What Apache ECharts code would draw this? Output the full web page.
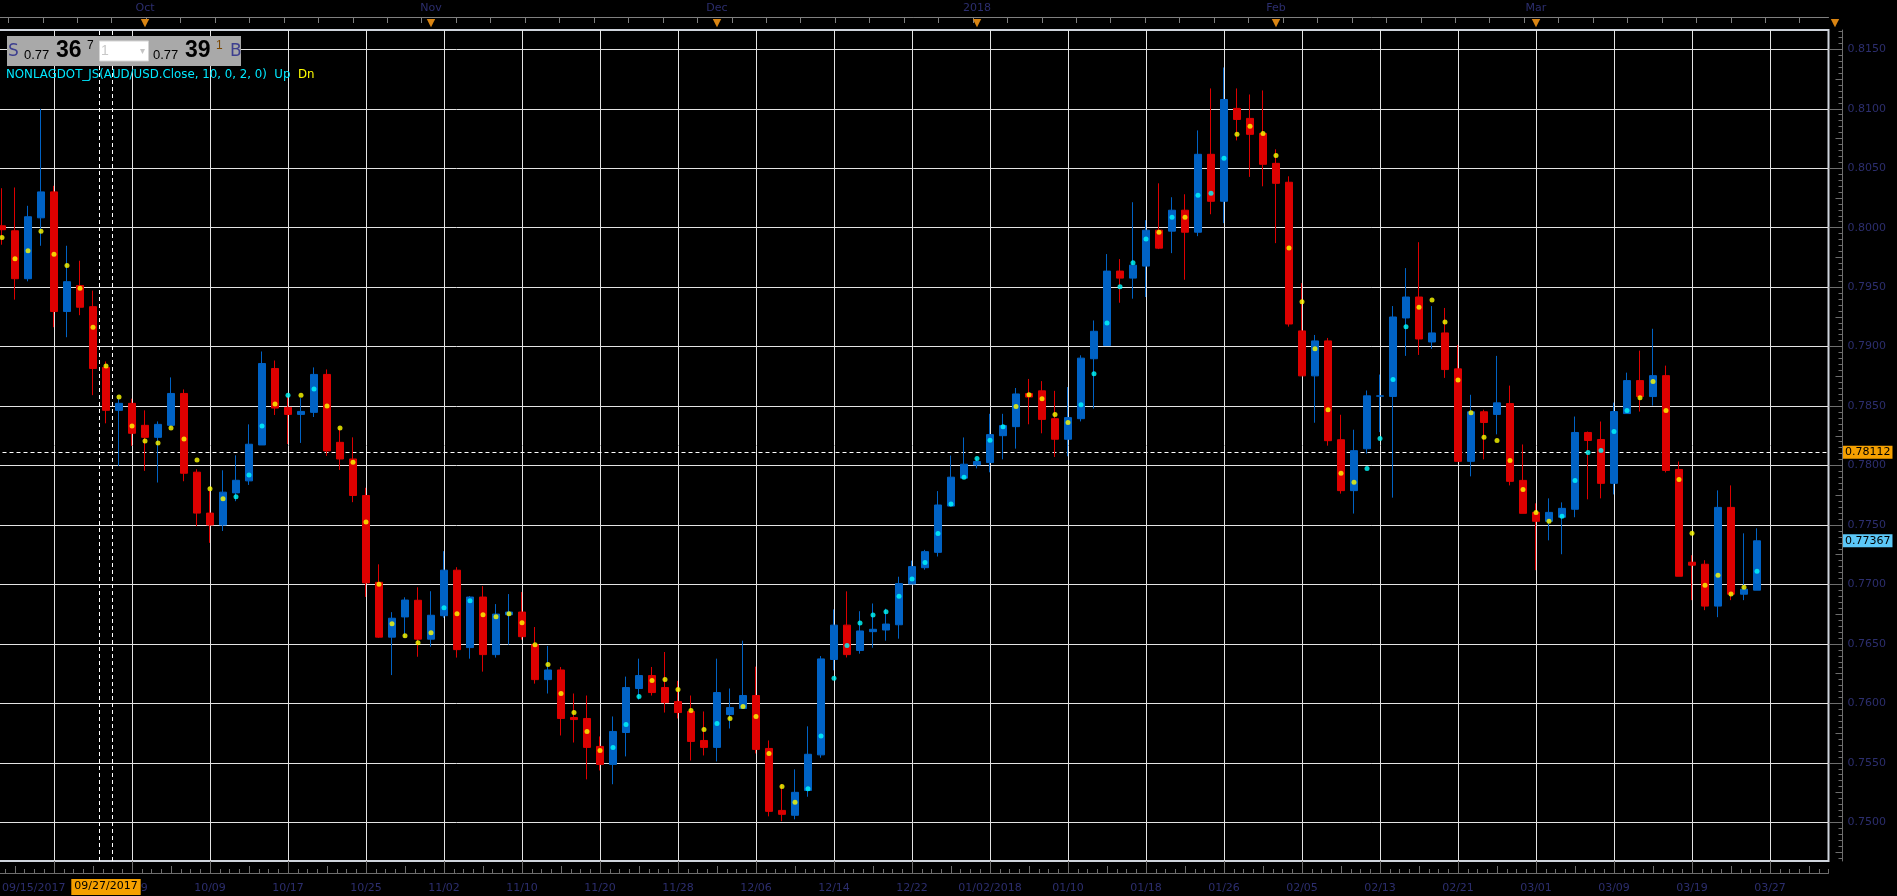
<!DOCTYPE html>
<html>
<head>
<meta charset="utf-8">
<title>AUD/USD NONLAGDOT</title>
<script src="https://cdn.jsdelivr.net/npm/echarts@6.0.0/dist/echarts.min.js"></script>
<style>
html, body { margin: 0; padding: 0; background: #000; }
#main { width: 1897px; height: 896px; }
</style>
</head>
<body>
<div id="main"></div>
<script>
// trading days shown on the chart (last 5 are empty slots on the right)
const dates = [
'09/15/2017','09/18/2017','09/19/2017','09/20/2017','09/21/2017','09/22/2017','09/25/2017','09/26/2017','09/27/2017','09/28/2017',
'09/29/2017','10/02/2017','10/03/2017','10/04/2017','10/05/2017','10/06/2017','10/09/2017','10/10/2017','10/11/2017','10/12/2017',
'10/13/2017','10/16/2017','10/17/2017','10/18/2017','10/19/2017','10/20/2017','10/23/2017','10/24/2017','10/25/2017','10/26/2017',
'10/27/2017','10/30/2017','10/31/2017','11/01/2017','11/02/2017','11/03/2017','11/06/2017','11/07/2017','11/08/2017','11/09/2017',
'11/10/2017','11/13/2017','11/14/2017','11/15/2017','11/16/2017','11/17/2017','11/20/2017','11/21/2017','11/22/2017','11/23/2017',
'11/24/2017','11/27/2017','11/28/2017','11/29/2017','11/30/2017','12/01/2017','12/04/2017','12/05/2017','12/06/2017','12/07/2017',
'12/08/2017','12/11/2017','12/12/2017','12/13/2017','12/14/2017','12/15/2017','12/18/2017','12/19/2017','12/20/2017','12/21/2017',
'12/22/2017','12/26/2017','12/27/2017','12/28/2017','12/29/2017','01/01/2018','01/02/2018','01/03/2018','01/04/2018','01/05/2018',
'01/08/2018','01/09/2018','01/10/2018','01/11/2018','01/12/2018','01/15/2018','01/16/2018','01/17/2018','01/18/2018','01/19/2018',
'01/22/2018','01/23/2018','01/24/2018','01/25/2018','01/26/2018','01/29/2018','01/30/2018','01/31/2018','02/01/2018','02/02/2018',
'02/05/2018','02/06/2018','02/07/2018','02/08/2018','02/09/2018','02/12/2018','02/13/2018','02/14/2018','02/15/2018','02/16/2018',
'02/19/2018','02/20/2018','02/21/2018','02/22/2018','02/23/2018','02/26/2018','02/27/2018','02/28/2018','03/01/2018','03/02/2018',
'03/05/2018','03/06/2018','03/07/2018','03/08/2018','03/09/2018','03/12/2018','03/13/2018','03/14/2018','03/15/2018','03/16/2018',
'03/19/2018','03/20/2018','03/21/2018','03/22/2018','03/23/2018','03/26/2018','03/27/2018','03/28/2018','03/29/2018','03/30/2018',
'04/02/2018'
];

const open = [
0.80016,0.79974,0.79571,0.80083,0.80301,0.79295,0.79513,0.79336,0.78825,0.78464,
0.78523,0.78338,0.78237,0.78338,0.78606,0.77944,0.77600,0.77500,0.77770,0.77871,
0.78173,0.78816,0.78489,0.78430,0.78447,0.78766,0.78195,0.78055,0.77748,0.77018,
0.76557,0.76727,0.76867,0.76540,0.76737,0.77120,0.76469,0.76894,0.76410,0.76745,
0.76768,0.76494,0.76200,0.76281,0.75881,0.75873,0.75638,0.75487,0.75755,0.76125,
0.76234,0.76133,0.76015,0.75932,0.75688,0.75630,0.75906,0.75957,0.76066,0.75621,
0.75100,0.75059,0.75268,0.75567,0.76369,0.76658,0.76445,0.76603,0.76617,0.76661,
0.77004,0.77141,0.77270,0.77659,0.77894,0.78005,0.78025,0.78251,0.78327,0.78605,
0.78628,0.78394,0.78221,0.78394,0.78898,0.79009,0.79635,0.79576,0.79677,0.79979,
0.79971,0.80147,0.79962,0.80617,0.80222,0.81003,0.80919,0.80793,0.80541,0.80382,
0.79132,0.78754,0.79048,0.78217,0.77789,0.78141,0.78583,0.78581,0.79241,0.79417,
0.79039,0.79115,0.78813,0.78035,0.78452,0.78430,0.78521,0.77875,0.77606,0.77531,
0.77565,0.77632,0.78278,0.78219,0.77850,0.78437,0.78714,0.78580,0.78756,0.77967,
0.77187,0.77170,0.76818,0.77648,0.76918,0.76952
];
const close = [
0.79983,0.79571,0.80092,0.80301,0.79295,0.79546,0.79331,0.78816,0.78464,0.78523,
0.78271,0.78237,0.78346,0.78606,0.77935,0.77600,0.77500,0.77776,0.77876,0.78179,
0.78858,0.78483,0.78430,0.78455,0.78766,0.78123,0.78055,0.77748,0.77013,0.76557,
0.76716,0.76869,0.76540,0.76741,0.77120,0.76452,0.76894,0.76410,0.76751,0.76768,
0.76561,0.76200,0.76281,0.75873,0.75864,0.75630,0.75487,0.75764,0.76133,0.76234,
0.76091,0.76007,0.75923,0.75680,0.75630,0.76091,0.75965,0.76066,0.75613,0.75092,
0.75067,0.75252,0.75572,0.76374,0.76658,0.76410,0.76609,0.76623,0.76667,0.77007,
0.77150,0.77276,0.77668,0.77902,0.78011,0.78034,0.78260,0.78336,0.78602,0.78576,
0.78388,0.78221,0.78403,0.78903,0.79129,0.79635,0.79576,0.79685,0.79979,0.79828,
0.80147,0.79962,0.80617,0.80222,0.81078,0.80910,0.80785,0.80533,0.80373,0.79190,
0.78754,0.79048,0.78209,0.77789,0.78125,0.78586,0.78586,0.79249,0.79417,0.79064,
0.79115,0.78807,0.78035,0.78452,0.78362,0.78527,0.77867,0.77598,0.77531,0.77606,
0.77640,0.78278,0.78211,0.77850,0.78454,0.78714,0.78580,0.78756,0.77959,0.77069,
0.77162,0.76818,0.77648,0.76918,0.76960,0.77367
];
const low = [
0.79857,0.79395,0.79549,0.79848,0.79163,0.79079,0.79264,0.78592,0.78355,0.77997,
0.78165,0.77955,0.77857,0.78316,0.77868,0.77490,0.77350,0.77450,0.77700,0.77837,
0.78173,0.78425,0.78181,0.78190,0.78408,0.78081,0.77963,0.77692,0.76895,0.76551,
0.76238,0.76554,0.76392,0.76476,0.76720,0.76385,0.76376,0.76267,0.76385,0.76494,
0.76536,0.76166,0.76083,0.75730,0.75671,0.75361,0.75436,0.75320,0.75554,0.76032,
0.76066,0.75923,0.75873,0.75520,0.75562,0.75512,0.75789,0.75957,0.75579,0.75050,
0.75009,0.75025,0.75215,0.75543,0.76278,0.76386,0.76418,0.76468,0.76527,0.76544,
0.77004,0.77124,0.77235,0.77654,0.77894,0.77976,0.77943,0.78052,0.78142,0.78347,
0.78271,0.78072,0.78078,0.78371,0.78479,0.79009,0.79369,0.79403,0.79417,0.79820,
0.79786,0.79562,0.79929,0.80113,0.80038,0.80734,0.80427,0.80348,0.79870,0.79168,
0.78754,0.78360,0.78167,0.77764,0.77596,0.78100,0.78281,0.77730,0.78922,0.78930,
0.78981,0.78737,0.78035,0.77909,0.78052,0.78262,0.77833,0.77598,0.77120,0.77371,
0.77254,0.77565,0.77716,0.77724,0.77757,0.78437,0.78454,0.78504,0.77942,0.77069,
0.76868,0.76784,0.76725,0.76868,0.76868,0.76952
];
const high = [
0.80332,0.80338,0.80184,0.80999,0.80352,0.79848,0.79722,0.79471,0.78875,0.78562,
0.78562,0.78464,0.78371,0.78741,0.78640,0.77969,0.77787,0.77960,0.78086,0.78346,
0.78959,0.78883,0.78584,0.78567,0.78825,0.78808,0.78316,0.78237,0.77813,0.77169,
0.76767,0.76892,0.76976,0.76943,0.77280,0.77145,0.76902,0.76986,0.76835,0.76919,
0.76936,0.76642,0.76483,0.76306,0.76083,0.76066,0.75722,0.75890,0.76225,0.76376,
0.76306,0.76432,0.76189,0.76066,0.75932,0.76376,0.76125,0.76527,0.76309,0.75688,
0.75320,0.75445,0.75807,0.76398,0.76790,0.76942,0.76775,0.76840,0.76796,0.77065,
0.77200,0.77291,0.77785,0.78084,0.78236,0.78060,0.78435,0.78435,0.78652,0.78728,
0.78710,0.78628,0.78660,0.78927,0.79220,0.79778,0.79736,0.80214,0.80063,0.80373,
0.80256,0.80281,0.80818,0.81171,0.81347,0.81171,0.81120,0.81154,0.80659,0.80432,
0.79534,0.79098,0.79073,0.78427,0.78301,0.78631,0.78765,0.79341,0.79660,0.79878,
0.79341,0.79325,0.79014,0.78595,0.78469,0.78922,0.78672,0.78177,0.77682,0.77724,
0.77690,0.78412,0.78286,0.78370,0.78529,0.78781,0.78966,0.79150,0.78840,0.78034,
0.77246,0.77204,0.77791,0.77833,0.77430,0.77472
];
// NONLAGDOT indicator value per bar and its colour state (U = up/cyan, D = down/yellow)
const dots = [
0.79918,0.79739,0.79806,0.79969,0.79776,0.79683,0.79490,0.79163,0.78836,0.78576,
0.78332,0.78206,0.78190,0.78316,0.78223,0.78047,0.77804,0.77720,0.77737,0.77921,
0.78332,0.78517,0.78592,0.78592,0.78643,0.78500,0.78316,0.78028,0.77525,0.77001,
0.76669,0.76568,0.76509,0.76593,0.76804,0.76754,0.76863,0.76745,0.76729,0.76754,
0.76678,0.76494,0.76326,0.76083,0.75923,0.75764,0.75604,0.75630,0.75822,0.76057,
0.76192,0.76200,0.76116,0.75940,0.75780,0.75831,0.75873,0.75974,0.75890,0.75579,
0.75302,0.75168,0.75283,0.75725,0.76211,0.76486,0.76676,0.76743,0.76770,0.76901,
0.77045,0.77185,0.77428,0.77677,0.77902,0.78060,0.78213,0.78327,0.78497,0.78596,
0.78561,0.78429,0.78362,0.78511,0.78772,0.79199,0.79504,0.79705,0.79904,0.79962,
0.80088,0.80088,0.80273,0.80290,0.80583,0.80785,0.80852,0.80793,0.80608,0.79829,
0.79378,0.78983,0.78469,0.77935,0.77859,0.77976,0.78228,0.78723,0.79168,0.79330,
0.79392,0.79207,0.78720,0.78444,0.78237,0.78211,0.78043,0.77799,0.77606,0.77531,
0.77573,0.77875,0.78110,0.78127,0.78286,0.78462,0.78571,0.78706,0.78462,0.77883,
0.77430,0.76994,0.77078,0.76919,0.76977,0.77111
];
const dotDir =
  'DDDDDDDDDD' + 'DDDDDDDDUU' + 'UDUDUDDDDD' + 'DDDDUDUDDD' + 'DDDDDDDUUU' +
  'DDDDDUDDDD' + 'DDUUUUUUUU' + 'UUUUUUUUDD' + 'DDDUUUUUUD' + 'UDUUUDDDDD' +
  'DDDDDUUUUD' + 'DDDDDDDDDD' + 'UUUUUUDDDD' + 'DDDDDU';

const yTicks = [0.7500,0.7550,0.7600,0.7650,0.7700,0.7750,0.7800,0.7850,0.7900,0.7950,0.8000,0.8050,0.8100,0.8150];
const gridIdx = [4,10,16,22,28,34,40,46,52,58,64,70,76,82,88,94,100,106,112,118,124,130,136];
const labelIdx = [0,10,16,22,28,34,40,46,52,58,64,70,76,82,88,94,100,106,112,118,124,130,136];
const monthIdx = [11,33,55,75,98,118];
const monthNames = ['Oct','Nov','Dec','2018','Feb','Mar'];
const crossIdx = 8;
const crossPrice = 0.78112;

const FONT = 'DejaVu Sans';
const NAVY = '#2c2e6e';
const GRAY = '#6e6e6e';
const UP = '#0062c4';
const DOWN = '#dd0000';
const ORANGE = '#f5a000';
const TRI = '#d98412';
const xMin = -0.5, xMax = 140.5;
const yMin = 0.746746, yMax = 0.816623;

const candleData = open.map((o, i) => [o, close[i], low[i], high[i]]);
const upDots = dots.map((v, i) => dotDir[i] === 'U' ? v : '-');
const dnDots = dots.map((v, i) => dotDir[i] === 'D' ? v : '-');
const lastClose = close[close.length - 1];

// ruler decorations
const yMinor = [], yMid = [];
for (let i = 1494; i <= 1633; i++) {
  if (i % 10 === 0) continue;
  (i % 5 === 0 ? yMid : yMinor).push(i / 2000);
}
const xMinor = [], xMid = [];
for (let n = 0; -0.5 + 0.75 * n <= xMax; n++) {
  if (n % 8 === 6) continue;
  (n % 8 === 2 ? xMid : xMinor).push(-0.5 + 0.75 * n);
}
const topTicks = [];
for (let j = 0; 0.485 + 2.65 * j <= xMax; j++) topTicks.push(0.485 + 2.65 * j);

function fmtDate(v) {
  const i = Math.round(v);
  const pos = labelIdx.indexOf(i);
  const full = dates[i];
  if (pos <= 0) return full;
  return full.slice(6) !== dates[labelIdx[pos - 1]].slice(6) ? full : full.slice(0, 5);
}

function line(show, color) {
  return { show: show, onZero: false, lineStyle: { color: color || GRAY } };
}

const hidden = { show: false, axisLine: line(false), axisTick: { show: false }, axisLabel: { show: false }, splitLine: { show: false } };

const chart = echarts.init(document.getElementById('main'));
const option = {
  backgroundColor: '#000',
  animation: false,
  textStyle: { fontFamily: FONT },
  title: {
    left: 6, top: 69, padding: 0,
    text: '{c|NONLAGDOT_JS(AUD/USD.Close, 10, 0, 2, 0)}  {c|Up}  {y|Dn}',
    textStyle: {
      fontSize: 11.8, fontWeight: 'normal',
      rich: {
        c: { color: '#00e8ff', fontSize: 11.8, fontFamily: FONT },
        y: { color: '#ffff00', fontSize: 11.8, fontFamily: FONT }
      }
    }
  },
  grid: {
    left: -4.5, right: 68.5, top: 30, bottom: 35,
    show: false, containLabel: false, outerBoundsMode: 'none'
  },
  xAxis: [
    Object.assign({ type: 'category', data: dates, boundaryGap: true }, hidden),
    {
      type: 'value', min: xMin, max: xMax, position: 'bottom', offset: 12,
      axisLine: line(true),
      axisTick: { show: true, inside: true, length: 4, customValues: xMinor, lineStyle: { color: GRAY } },
      axisLabel: { customValues: labelIdx, formatter: fmtDate, color: NAVY, fontSize: 11, fontFamily: FONT, margin: 10, alignMinLabel: 'left' },
      splitLine: { show: false }
    },
    {
      type: 'value', min: xMin, max: xMax, position: 'bottom', offset: 12, z: 3,
      axisLine: line(false),
      axisTick: { show: true, inside: true, length: 12, customValues: gridIdx, lineStyle: { color: GRAY } },
      axisLabel: {
        customValues: [crossIdx], formatter: () => dates[crossIdx],
        color: '#000', backgroundColor: ORANGE, padding: [2, 3, 3, 3], fontSize: 11, fontFamily: FONT, margin: 6
      },
      splitLine: { show: false }
    },
    {
      type: 'value', min: xMin, max: xMax, position: 'bottom', offset: 12,
      axisLine: line(false),
      axisTick: { show: true, inside: true, length: 7, customValues: xMid, lineStyle: { color: GRAY } },
      axisLabel: { show: false }, splitLine: { show: false }
    },
    {
      type: 'value', min: xMin, max: xMax, position: 'top', offset: 13,
      axisLine: line(true, '#808080'),
      axisTick: { show: true, inside: true, length: 6, customValues: topTicks, lineStyle: { color: '#808080' } },
      axisLabel: { customValues: monthIdx, formatter: v => monthNames[monthIdx.indexOf(Math.round(v))], color: NAVY, fontSize: 11, fontFamily: FONT, margin: 3 },
      splitLine: { show: false }
    },
    {
      type: 'value', min: xMin, max: xMax, position: 'top', offset: 0,
      axisLine: line(false), axisTick: { show: false },
      axisLabel: { customValues: monthIdx, formatter: '▼', color: TRI, fontSize: 11, fontFamily: FONT, margin: 1 },
      splitLine: { show: false }
    }
  ],
  yAxis: [
    {
      type: 'value', min: yMin, max: yMax, position: 'right', offset: 14,
      axisLine: line(true),
      axisTick: { show: true, inside: true, length: 4, customValues: yMinor, lineStyle: { color: GRAY } },
      axisLabel: { customValues: yTicks, formatter: v => v.toFixed(4), color: NAVY, fontSize: 11, fontFamily: FONT, margin: 5 },
      splitLine: { show: false }
    },
    {
      type: 'value', min: yMin, max: yMax, position: 'right', offset: 14,
      axisLine: line(false),
      axisTick: { show: true, inside: true, length: 14, customValues: yTicks, lineStyle: { color: GRAY } },
      axisLabel: { show: false }, splitLine: { show: false }
    },
    {
      type: 'value', min: yMin, max: yMax, position: 'right', offset: 14,
      axisLine: line(false),
      axisTick: { show: true, inside: true, length: 7, customValues: yMid, lineStyle: { color: GRAY } },
      axisLabel: { show: false }, splitLine: { show: false }
    }
  ],
  series: [
    {
      type: 'candlestick', name: 'AUD/USD', xAxisIndex: 0, yAxisIndex: 0,
      data: candleData, barWidth: 7, z: 2, silent: true,
      itemStyle: { color: UP, color0: DOWN, borderColor: UP, borderColor0: DOWN, borderWidth: 1 },
      markLine: {
        silent: true, symbol: ['none', 'none'], z: 1, animation: false, precision: 5,
        label: { show: false },
        lineStyle: { color: '#e4e4e4', width: 1, type: 'solid' },
        data: yTicks.map(v => ({ yAxis: v })).concat(gridIdx.map(k => ({ xAxis: dates[k] })))
      }
    },
    {
      type: 'scatter', name: 'Up', xAxisIndex: 0, yAxisIndex: 0, data: upDots,
      symbol: 'circle', symbolSize: 5, z: 4, silent: true,
      itemStyle: { color: '#00ffff' }
    },
    {
      type: 'scatter', name: 'Dn', xAxisIndex: 0, yAxisIndex: 0, data: dnDots,
      symbol: 'circle', symbolSize: 5, z: 4, silent: true,
      itemStyle: { color: '#ffff00' }
    },
    {
      type: 'line', name: 'cross', xAxisIndex: 2, yAxisIndex: 0, data: [], silent: true,
      markLine: {
        silent: true, symbol: ['none', 'none'], z: 1, animation: false, precision: 5,
        lineStyle: { color: '#ffffff', width: 1, type: [4, 3] },
        label: { show: false },
        data: [
          { xAxis: crossIdx - 0.5 },
          { xAxis: crossIdx + 0.5 },
          {
            yAxis: crossPrice,
            label: { show: true, position: 'end', distance: 14.5, formatter: crossPrice.toFixed(5), color: '#000', backgroundColor: ORANGE, padding: [1, 2, 1, 2], fontSize: 11, fontFamily: FONT }
          },
          {
            yAxis: lastClose, lineStyle: { color: 'rgba(0,0,0,0)', width: 0 },
            label: { show: true, position: 'end', distance: 14.5, formatter: lastClose.toFixed(5), color: '#000', backgroundColor: '#5cc8f8', padding: [1, 2, 1, 2], fontSize: 11, fontFamily: FONT }
          }
        ]
      }
    }
  ],
  graphic: [
    // plot frame (top, right, bottom edges)
    { type: 'rect', shape: { x: -6, y: 30, width: 1834.5, height: 831 }, style: { fill: 'none', stroke: '#cfd4dc', lineWidth: 2 }, z: 0, silent: true },
    { type: 'text', x: 1835, y: 23, z: 5, style: { text: '▼', font: '11px "DejaVu Sans"', fill: TRI, align: 'center', verticalAlign: 'middle' } },
    // bid / ask panel
    { type: 'rect', x: 7, y: 36, shape: { width: 234, height: 30 }, style: { fill: '#a9a9a9' }, z: 10 },
    { type: 'text', x: 8, y: 52, z: 11, style: { text: 'S', font: '17px "DejaVu Sans"', fill: '#3d3f8f', verticalAlign: 'middle' } },
    { type: 'text', x: 24, y: 55, z: 11, style: { text: '0.77', font: '13px "Liberation Sans"', fill: '#000', verticalAlign: 'middle' } },
    { type: 'text', x: 56, y: 50.5, z: 11, style: { text: '36', font: 'bold 23px "Liberation Sans"', fill: '#000', verticalAlign: 'middle' } },
    { type: 'text', x: 87, y: 46, z: 11, style: { text: '7', font: '12px "Liberation Sans"', fill: '#000', verticalAlign: 'middle' } },
    { type: 'rect', x: 99.5, y: 41, shape: { width: 49, height: 20 }, style: { fill: '#ffffff', stroke: '#d4d4d4', lineWidth: 1 }, z: 11 },
    { type: 'text', x: 101, y: 51, z: 12, style: { text: '1', font: '14px "Liberation Sans"', fill: '#c8c8c8', verticalAlign: 'middle' } },
    { type: 'text', x: 140, y: 51, z: 12, style: { text: '▾', font: '10px "DejaVu Sans"', fill: '#c4c4c4', verticalAlign: 'middle' } },
    { type: 'text', x: 153, y: 55, z: 11, style: { text: '0.77', font: '13px "Liberation Sans"', fill: '#000', verticalAlign: 'middle' } },
    { type: 'text', x: 185, y: 50.5, z: 11, style: { text: '39', font: 'bold 23px "Liberation Sans"', fill: '#000', verticalAlign: 'middle' } },
    { type: 'text', x: 216, y: 46, z: 11, style: { text: '1', font: '12px "Liberation Sans"', fill: '#7a4600', verticalAlign: 'middle' } },
    { type: 'text', x: 230, y: 52, z: 11, style: { text: 'B', font: '17px "DejaVu Sans"', fill: '#3d3f8f', verticalAlign: 'middle' } }
  ]
};
chart.setOption(option);
</script>
</body>
</html>
